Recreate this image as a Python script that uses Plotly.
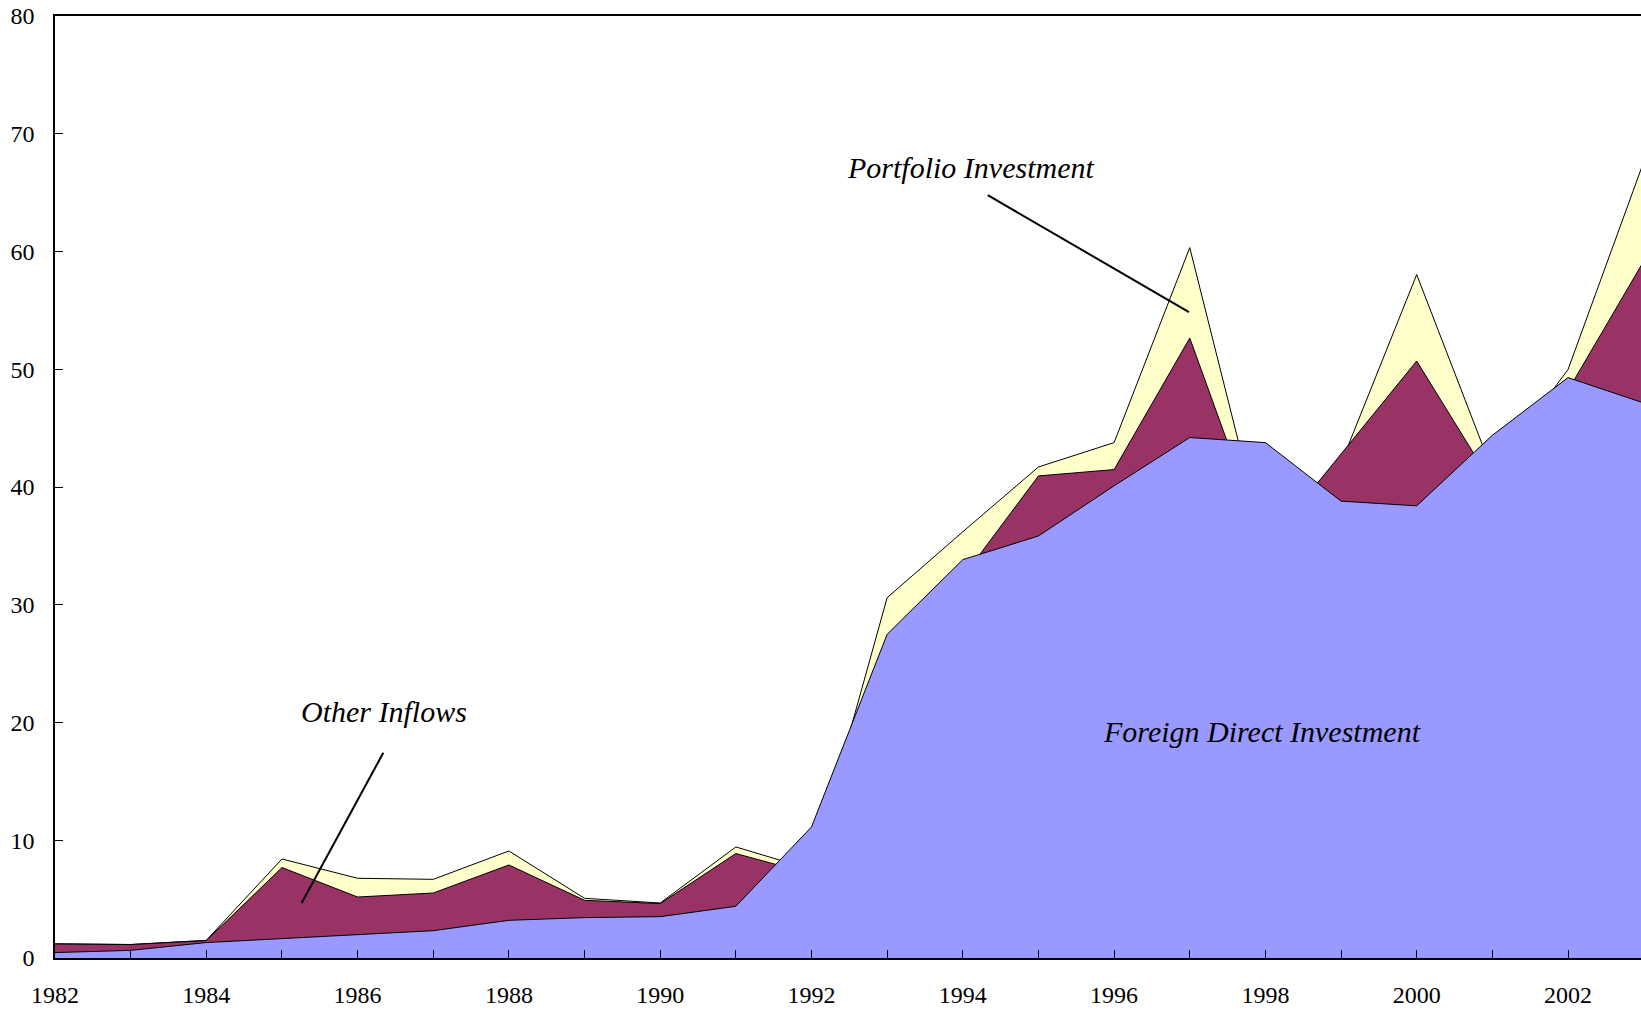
import numpy as np
import plotly.graph_objects as go

# ---- data (US$ billions) ----
years = list(range(1982, 2004))

fdi = [0.46, 0.65, 1.31, 1.65, 1.93, 2.32, 3.20, 3.43, 3.51, 4.39, 11.13,
       27.49, 33.83, 35.84, 40.10, 44.20, 43.77, 38.80, 38.40, 44.39, 49.29, 47.14]

other_inflows = [0.73, 0.49, 0.17, 6.03, 3.25, 3.20, 4.70, 1.47, 1.11, 4.48, -4.00,
                 -1.99, -1.49, 5.10, 1.38, 8.45, -8.87, 3.95, 12.30, -4.11, -1.09, 12.03]

portfolio = [0.02, 0.01, 0.02, 0.73, 1.59, 1.16, 1.19, 0.17, 0.05, 0.56, 0.38,
             5.10, 3.86, 0.76, 2.29, 7.68, -0.17, -0.75, 7.34, 1.12, 1.77, 8.43]

tick_years = years
tick_labels = [str(y) if y % 2 == 0 else "" for y in years]

# ---- stacked levels ----
lvl_fdi = np.array(fdi)
lvl_other = lvl_fdi + np.array(other_inflows)
lvl_total = lvl_other + np.array(portfolio)

SERIF = "Liberation Serif"

fig = go.Figure()

# drawn top-down so lower layers cover the ones above
fig.add_trace(go.Scatter(
    x=years, y=lvl_total, name="Portfolio Investment", mode="lines",
    fill="tozeroy", fillcolor="#FFFFCC",
    line=dict(color="black", width=1)
))
fig.add_trace(go.Scatter(
    x=years, y=lvl_other, name="Other Inflows", mode="lines",
    fill="tozeroy", fillcolor="#993366",
    line=dict(color="black", width=1)
))
fig.add_trace(go.Scatter(
    x=years, y=lvl_fdi, name="Foreign Direct Investment", mode="lines",
    fill="tozeroy", fillcolor="#9999FF",
    line=dict(color="black", width=1)
))

# ---- labels with leader lines ----
label_font = dict(family=SERIF, size=30, color="black")
fig.add_annotation(x=1994.1, y=67.1, xref="x", yref="y", text="<i>Portfolio Investment</i>",
                   showarrow=False, font=label_font)
fig.add_annotation(x=1986.35, y=20.9, xref="x", yref="y", text="<i>Other Inflows</i>",
                   showarrow=False, font=label_font)
fig.add_annotation(x=1997.95, y=19.2, xref="x", yref="y", text="<i>Foreign Direct Investment</i>",
                   showarrow=False, font=label_font)

fig.add_shape(type="line", xref="x", yref="y", x0=1994.33, y0=64.78, x1=1996.99, y1=54.86,
              line=dict(color="black", width=2))
fig.add_shape(type="line", xref="x", yref="y", x0=1986.34, y0=17.43, x1=1985.26, y1=4.67,
              line=dict(color="black", width=2))

fig.update_layout(
    width=1641, height=1011,
    margin=dict(l=55, r=0, t=16, b=53),
    plot_bgcolor="white", paper_bgcolor="white",
    showlegend=False,
    font=dict(family=SERIF, size=24, color="black"),
)
fig.update_xaxes(
    range=[1982, 2002.965], tickvals=tick_years, ticktext=tick_labels,
    ticks="inside", ticklen=8, tickcolor="black", tickwidth=1,
    showline=True, linecolor="black", linewidth=1.5, mirror=True,
    showgrid=False, zeroline=False, ticklabelstandoff=14, automargin=False,
)
fig.update_yaxes(
    range=[0, 80], dtick=10,
    ticks="inside", ticklen=8, tickcolor="black", tickwidth=1,
    showline=True, linecolor="black", linewidth=1.5,
    showgrid=False, zeroline=False, ticklabelstandoff=14, automargin=False,
)

# page margin would shift the fixed-size figure, so drop it
fig.write_html("out.html", config={"displayModeBar": False},
               post_script="document.body.style.margin='0';")
